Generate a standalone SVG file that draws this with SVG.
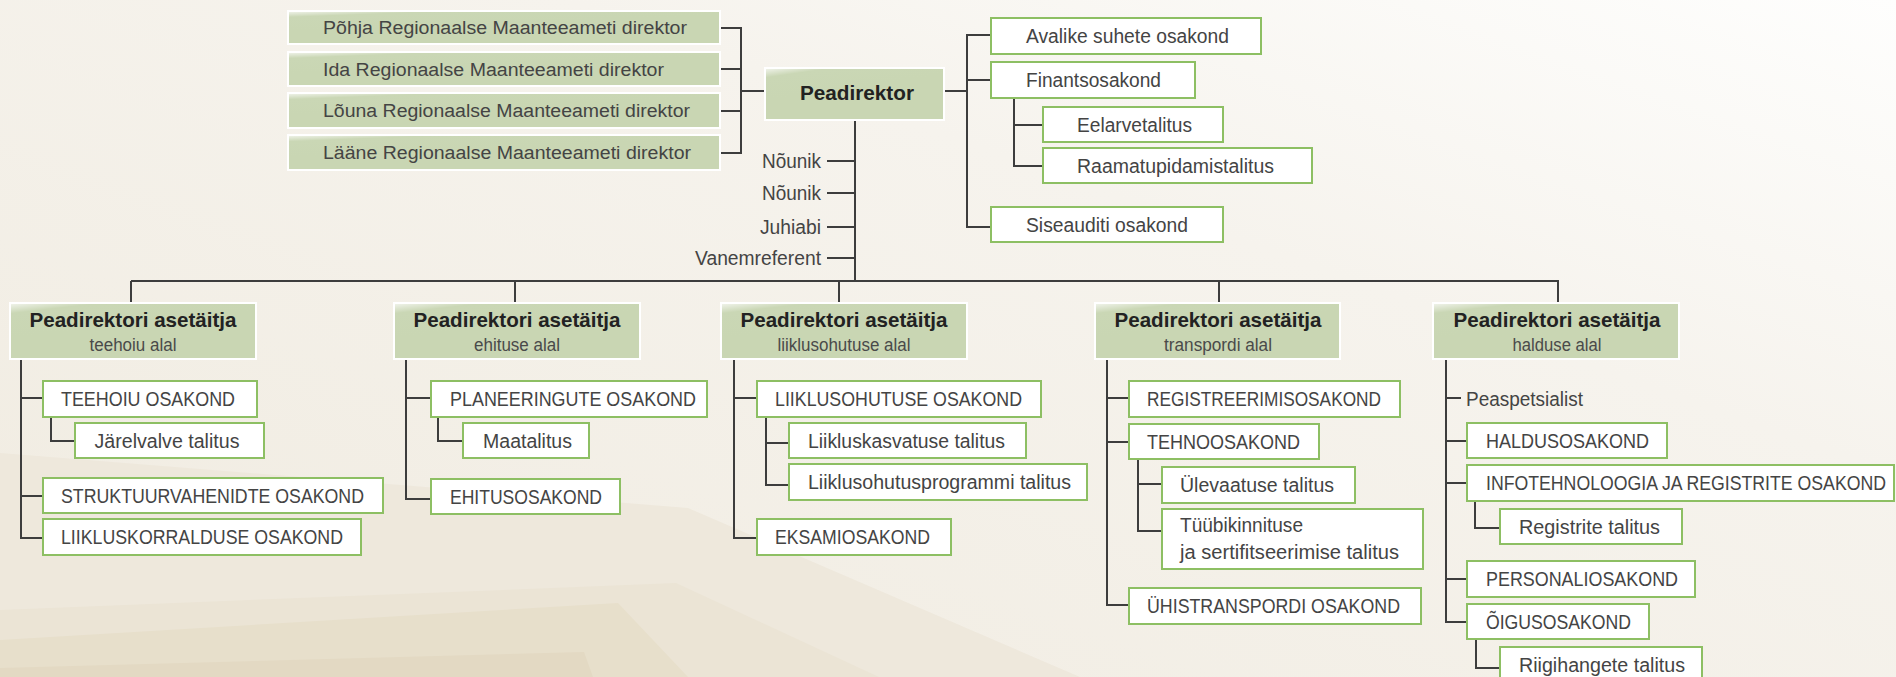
<svg xmlns="http://www.w3.org/2000/svg" width="1896" height="677" viewBox="0 0 1896 677">
<style>
.t{font-family:"Liberation Sans",Arial,sans-serif;font-size:19.5px;fill:#444}
.tg{font-family:"Liberation Sans",Arial,sans-serif;font-size:18px;fill:#444}
.b{font-family:"Liberation Sans",Arial,sans-serif;font-size:20.5px;font-weight:bold;fill:#222;text-anchor:middle}
.s{font-family:"Liberation Sans",Arial,sans-serif;font-size:17.5px;fill:#4a4a4a;text-anchor:middle}
.e{text-anchor:end}
.box{fill:#fff;stroke:#8dbf63;stroke-width:2}
.gbox{fill:url(#gf);stroke:#fff;stroke-width:2}
.c{fill:none;stroke:#3d3d3d;stroke-width:2}
</style>
<defs>
<linearGradient id="bg" x1="1" y1="0" x2="0" y2="1">
<stop offset="0" stop-color="#fefefd"/>
<stop offset="0.35" stop-color="#f6f3ed"/>
<stop offset="1" stop-color="#f0ebe0"/>
</linearGradient>
<linearGradient id="gf" x1="0" y1="0" x2="0.25" y2="0.5">
<stop offset="0" stop-color="#f3f5ee"/>
<stop offset="0.3" stop-color="#cad7b5"/>
<stop offset="1" stop-color="#c9d6b3"/>
</linearGradient>
</defs>
<rect x="0" y="0" width="1896" height="677" fill="url(#bg)"/>
<polygon points="0,453 688,508 1080,677 0,677" fill="#eee8dc"/>
<polygon points="0,610 676,583 879,677 0,677" fill="#ebe4d5"/>
<polygon points="0,640 618,603 688,677 0,677" fill="#e7dfcb"/>
<polygon points="0,668 584,652 593,677 0,677" fill="#e3d9c3"/>

<g id="connectors">
<path class="c" d="M720 28H741M720 69H741M720 111H741M720 153H741M741 27V154M741 91H765"/>
<path class="c" d="M944 91H967M967 34V228M967 35H991M967 80H991M967 227H991M1014 98V167M1014 125H1043M1014 166H1043"/>
<path class="c" d="M855 120V282M827 161H855M827 193H855M827 227H855M827 258H855M131 281H1559M131 281V303M515 281V303M839 281V303M1219 281V303M1558 281V303"/>
<path class="c" d="M21 359V539M21 398H43M21 496H43M21 538H43M51 417V442M51 441H75"/>
<path class="c" d="M406 359V500M406 398H431M406 499H431M438 417V442M438 441H463"/>
<path class="c" d="M734 359V539M734 398H757M734 538H757M766 417V486M766 443H789M766 485H789"/>
<path class="c" d="M1107 359V606M1107 398H1129M1107 442H1129M1107 605H1129M1138 459V532M1138 484H1162M1138 531H1162"/>
<path class="c" d="M1446 359V623M1446 398H1461M1446 441H1467M1446 483H1467M1446 579H1467M1446 622H1467M1475 501V529M1475 528H1500M1476 639V669M1476 668H1500"/>
</g>

<g id="n-pohja"><rect class="gbox" x="288" y="11" width="432" height="33"/><text class="tg" x="323" y="34" textLength="364" lengthAdjust="spacingAndGlyphs">Põhja Regionaalse Maanteeameti direktor</text></g>
<g id="n-ida"><rect class="gbox" x="288" y="52" width="432" height="34"/><text class="tg" x="323" y="75.5" textLength="341" lengthAdjust="spacingAndGlyphs">Ida Regionaalse Maanteeameti direktor</text></g>
<g id="n-louna"><rect class="gbox" x="288" y="93" width="432" height="35"/><text class="tg" x="323" y="117" textLength="367" lengthAdjust="spacingAndGlyphs">Lõuna Regionaalse Maanteeameti direktor</text></g>
<g id="n-laane"><rect class="gbox" x="288" y="135" width="432" height="35"/><text class="tg" x="323" y="159" textLength="368" lengthAdjust="spacingAndGlyphs">Lääne Regionaalse Maanteeameti direktor</text></g>

<g id="n-peadirektor"><rect class="gbox" x="765" y="68" width="179" height="52"/><text class="b" x="857" y="100" textLength="114" lengthAdjust="spacingAndGlyphs">Peadirektor</text></g>

<g id="n-nounik1"><text class="t e" x="821" y="168" textLength="59" lengthAdjust="spacingAndGlyphs">Nõunik</text></g>
<g id="n-nounik2"><text class="t e" x="821" y="200" textLength="59" lengthAdjust="spacingAndGlyphs">Nõunik</text></g>
<g id="n-juhiabi"><text class="t e" x="821" y="234" textLength="61" lengthAdjust="spacingAndGlyphs">Juhiabi</text></g>
<g id="n-vanemreferent"><text class="t e" x="821" y="265" textLength="126" lengthAdjust="spacingAndGlyphs">Vanemreferent</text></g>

<g id="n-avalike"><rect class="box" x="991" y="18" width="270" height="36"/><text class="t" x="1026" y="43" textLength="203" lengthAdjust="spacingAndGlyphs">Avalike suhete osakond</text></g>
<g id="n-finants"><rect class="box" x="991" y="62" width="204" height="36"/><text class="t" x="1026" y="87" textLength="135" lengthAdjust="spacingAndGlyphs">Finantsosakond</text></g>
<g id="n-eelarve"><rect class="box" x="1043" y="107" width="180" height="35"/><text class="t" x="1077" y="131.5" textLength="115" lengthAdjust="spacingAndGlyphs">Eelarvetalitus</text></g>
<g id="n-raamatu"><rect class="box" x="1043" y="148" width="269" height="35"/><text class="t" x="1077" y="172.5" textLength="197" lengthAdjust="spacingAndGlyphs">Raamatupidamistalitus</text></g>
<g id="n-siseauditi"><rect class="box" x="991" y="207" width="232" height="35"/><text class="t" x="1026" y="231.5" textLength="162" lengthAdjust="spacingAndGlyphs">Siseauditi osakond</text></g>

<g id="n-teehoiu-dir"><rect class="gbox" x="10" y="303" width="246" height="56"/><text class="b" x="133" y="327" textLength="207" lengthAdjust="spacingAndGlyphs">Peadirektori asetäitja</text><text class="s" x="133" y="351" textLength="87" lengthAdjust="spacingAndGlyphs">teehoiu alal</text></g>
<g id="n-ehituse-dir"><rect class="gbox" x="394" y="303" width="246" height="56"/><text class="b" x="517" y="327" textLength="207" lengthAdjust="spacingAndGlyphs">Peadirektori asetäitja</text><text class="s" x="517" y="351" textLength="86" lengthAdjust="spacingAndGlyphs">ehituse alal</text></g>
<g id="n-liiklus-dir"><rect class="gbox" x="721" y="303" width="246" height="56"/><text class="b" x="844" y="327" textLength="207" lengthAdjust="spacingAndGlyphs">Peadirektori asetäitja</text><text class="s" x="844" y="351" textLength="133" lengthAdjust="spacingAndGlyphs">liiklusohutuse alal</text></g>
<g id="n-transpordi-dir"><rect class="gbox" x="1095" y="303" width="245" height="56"/><text class="b" x="1218" y="327" textLength="207" lengthAdjust="spacingAndGlyphs">Peadirektori asetäitja</text><text class="s" x="1218" y="351" textLength="108" lengthAdjust="spacingAndGlyphs">transpordi alal</text></g>
<g id="n-halduse-dir"><rect class="gbox" x="1433" y="303" width="246" height="56"/><text class="b" x="1557" y="327" textLength="207" lengthAdjust="spacingAndGlyphs">Peadirektori asetäitja</text><text class="s" x="1557" y="351" textLength="89" lengthAdjust="spacingAndGlyphs">halduse alal</text></g>

<g id="n-teehoiu"><rect class="box" x="43" y="381" width="214" height="36"/><text class="t" x="61" y="406" textLength="174" lengthAdjust="spacingAndGlyphs">TEEHOIU OSAKOND</text></g>
<g id="n-jarelvalve"><rect class="box" x="75" y="423" width="189" height="35"/><text class="t" x="94.5" y="447.5" textLength="145" lengthAdjust="spacingAndGlyphs">Järelvalve talitus</text></g>
<g id="n-struktuur"><rect class="box" x="43" y="478" width="340" height="35"/><text class="t" x="61" y="502.5" textLength="303" lengthAdjust="spacingAndGlyphs">STRUKTUURVAHENIDTE OSAKOND</text></g>
<g id="n-liikluskorr"><rect class="box" x="43" y="519" width="318" height="36"/><text class="t" x="61" y="544" textLength="282" lengthAdjust="spacingAndGlyphs">LIIKLUSKORRALDUSE OSAKOND</text></g>

<g id="n-planeeringute"><rect class="box" x="431" y="381" width="276" height="36"/><text class="t" x="450" y="406" textLength="246" lengthAdjust="spacingAndGlyphs">PLANEERINGUTE OSAKOND</text></g>
<g id="n-maatalitus"><rect class="box" x="463" y="423" width="126" height="35"/><text class="t" x="483" y="447.5" textLength="89" lengthAdjust="spacingAndGlyphs">Maatalitus</text></g>
<g id="n-ehitus"><rect class="box" x="431" y="479" width="189" height="35"/><text class="t" x="450" y="503.5" textLength="152" lengthAdjust="spacingAndGlyphs">EHITUSOSAKOND</text></g>

<g id="n-liiklusohutuse"><rect class="box" x="757" y="381" width="284" height="36"/><text class="t" x="775" y="406" textLength="247" lengthAdjust="spacingAndGlyphs">LIIKLUSOHUTUSE OSAKOND</text></g>
<g id="n-liikluskasv"><rect class="box" x="789" y="423" width="237" height="35"/><text class="t" x="808" y="447.5" textLength="197" lengthAdjust="spacingAndGlyphs">Liikluskasvatuse talitus</text></g>
<g id="n-liiklusprog"><rect class="box" x="789" y="464" width="298" height="36"/><text class="t" x="808" y="489" textLength="263" lengthAdjust="spacingAndGlyphs">Liiklusohutusprogrammi talitus</text></g>
<g id="n-eksami"><rect class="box" x="757" y="519" width="194" height="36"/><text class="t" x="775" y="544" textLength="155" lengthAdjust="spacingAndGlyphs">EKSAMIOSAKOND</text></g>

<g id="n-registreerimis"><rect class="box" x="1129" y="381" width="271" height="36"/><text class="t" x="1147" y="406" textLength="234" lengthAdjust="spacingAndGlyphs">REGISTREERIMISOSAKOND</text></g>
<g id="n-tehno"><rect class="box" x="1129" y="424" width="190" height="35"/><text class="t" x="1147" y="448.5" textLength="153" lengthAdjust="spacingAndGlyphs">TEHNOOSAKOND</text></g>
<g id="n-ulevaatuse"><rect class="box" x="1162" y="467" width="193" height="36"/><text class="t" x="1180" y="492" textLength="154" lengthAdjust="spacingAndGlyphs">Ülevaatuse talitus</text></g>
<g id="n-tuubi"><rect class="box" x="1162" y="509" width="261" height="60"/><text class="t" x="1180" y="532" textLength="123" lengthAdjust="spacingAndGlyphs">Tüübikinnituse</text><text class="t" x="1180" y="559" textLength="219" lengthAdjust="spacingAndGlyphs">ja sertifitseerimise talitus</text></g>
<g id="n-uhistransp"><rect class="box" x="1129" y="588" width="292" height="36"/><text class="t" x="1147" y="613" textLength="253" lengthAdjust="spacingAndGlyphs">ÜHISTRANSPORDI OSAKOND</text></g>

<g id="n-peaspetsialist"><text class="t" x="1466" y="405.5" textLength="117" lengthAdjust="spacingAndGlyphs">Peaspetsialist</text></g>
<g id="n-haldus"><rect class="box" x="1467" y="423" width="200" height="35"/><text class="t" x="1486" y="447.5" textLength="163" lengthAdjust="spacingAndGlyphs">HALDUSOSAKOND</text></g>
<g id="n-infotehn"><rect class="box" x="1467" y="465" width="427" height="36"/><text class="t" x="1486" y="490" textLength="400" lengthAdjust="spacingAndGlyphs">INFOTEHNOLOOGIA JA REGISTRITE OSAKOND</text></g>
<g id="n-registrite"><rect class="box" x="1500" y="509" width="182" height="35"/><text class="t" x="1519" y="533.5" textLength="141" lengthAdjust="spacingAndGlyphs">Registrite talitus</text></g>
<g id="n-personali"><rect class="box" x="1467" y="561" width="228" height="36"/><text class="t" x="1486" y="586" textLength="192" lengthAdjust="spacingAndGlyphs">PERSONALIOSAKOND</text></g>
<g id="n-oigus"><rect class="box" x="1467" y="604" width="182" height="35"/><text class="t" x="1486" y="628.5" textLength="145" lengthAdjust="spacingAndGlyphs">ÕIGUSOSAKOND</text></g>
<g id="n-riigihangete"><rect class="box" x="1500" y="647" width="202" height="38"/><text class="t" x="1519" y="671.5" textLength="166" lengthAdjust="spacingAndGlyphs">Riigihangete talitus</text></g>
</svg>
